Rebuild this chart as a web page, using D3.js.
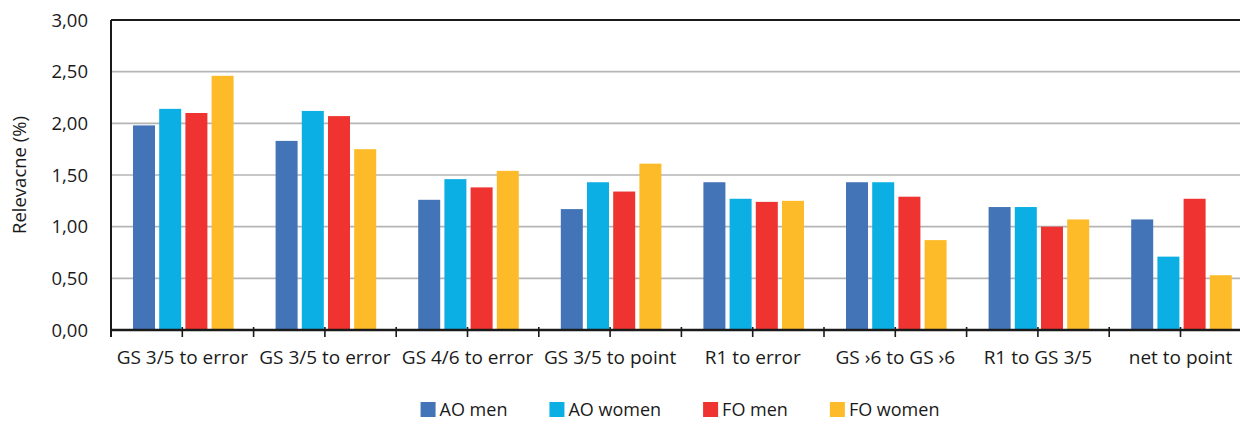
<!DOCTYPE html>
<html>
<head>
<meta charset="utf-8">
<script src="https://cdn.jsdelivr.net/npm/d3@7"></script>
<style>
  body { margin: 0; background: #fff; }
  svg { display: block; font-family: "Open Sans", "Noto Sans", sans-serif; }
</style>
</head>
<body>
<svg id="chart"></svg>
<script>
// data
var categories = ["GS 3/5 to error", "GS 3/5 to error", "GS 4/6 to error", "GS 3/5 to point",
                  "R1 to error", "GS \u203a6 to GS \u203a6", "R1 to GS 3/5", "net to point"];
var seriesNames = ["AO men", "AO women", "FO men", "FO women"];
var aoMen   = [1.98, 1.83, 1.26, 1.17, 1.43, 1.43, 1.19, 1.07];
var aoWomen = [2.14, 2.12, 1.46, 1.43, 1.27, 1.43, 1.19, 0.71];
var foMen   = [2.10, 2.07, 1.38, 1.34, 1.24, 1.29, 1.00, 1.27];
var foWomen = [2.46, 1.75, 1.54, 1.61, 1.25, 0.87, 1.07, 0.53];
var yTicks  = [0, 0.5, 1, 1.5, 2, 2.5, 3];
var colors  = ["#4374b8", "#0bafe4", "#ee3330", "#fdbb2a"];

var values = [aoMen, aoWomen, foMen, foWomen];

// size
var size = { width: 1240, height: 421 };
var margin = { top: 20, left: 111, bottom: 91 };
var plotW = 8 * 142.6;   // plot runs past the right edge (cropped)
var plotH = size.height - margin.top - margin.bottom;

var svg = d3.select("#chart")
  .attr("width", size.width)
  .attr("height", size.height);

var g = svg.append("g")
  .attr("transform", "translate(" + margin.left + "," + margin.top + ")");

var idx = d3.range(categories.length);
var x0 = d3.scaleBand().domain(idx).range([0, plotW]).padding(0);
var x1 = d3.scaleBand().domain(seriesNames).range([0, 100.6]).paddingInner(0.16).paddingOuter(0);
var y = d3.scaleLinear().domain([0, 3]).range([plotH, 0]);

var fmt = function(v){ return d3.format(".2f")(v).replace(".", ","); };

// grid
g.selectAll("line.grid")
  .data(yTicks.filter(function(t){ return t > 0 && t < 3; }))
  .enter().append("line")
  .attr("class", "grid")
  .attr("x1", 0).attr("x2", plotW)
  .attr("y1", function(d){ return y(d); })
  .attr("y2", function(d){ return y(d); })
  .attr("stroke", "#b5b5b5")
  .attr("stroke-width", 1.6);

// bars
seriesNames.forEach(function(s, si){
  g.selectAll("rect.s" + si)
    .data(values[si])
    .enter().append("rect")
    .attr("class", "s" + si)
    .attr("x", function(d, i){ return x0(i) + (x0.bandwidth() - 100.6) / 2 + 1 + x1(s); })
    .attr("y", function(d){ return y(d); })
    .attr("width", x1.bandwidth())
    .attr("height", function(d){ return plotH - y(d); })
    .attr("fill", colors[si]);
});

// frame: top + left
g.append("line")
  .attr("x1", 0).attr("x2", plotW)
  .attr("y1", 0).attr("y2", 0)
  .attr("stroke", "#1a1a1a").attr("stroke-width", 2);
g.append("line")
  .attr("x1", 0).attr("x2", 0)
  .attr("y1", 0).attr("y2", plotH + 7)
  .attr("stroke", "#1a1a1a").attr("stroke-width", 2);

// x axis line + ticks at band centres and edges
g.append("line")
  .attr("x1", 0).attr("x2", plotW)
  .attr("y1", plotH).attr("y2", plotH)
  .attr("stroke", "#1a1a1a").attr("stroke-width", 2.4);

var tickPos = d3.range(categories.length * 2 + 1).map(function(k){ return k * x0.step() / 2; });
g.selectAll("line.xt")
  .data(tickPos)
  .enter().append("line")
  .attr("class", "xt")
  .attr("x1", function(d){ return d; }).attr("x2", function(d){ return d; })
  .attr("y1", plotH - 3).attr("y2", plotH + 7)
  .attr("stroke", "#1a1a1a").attr("stroke-width", 1.6);

// category labels
g.selectAll("text.cat")
  .data(categories)
  .enter().append("text")
  .attr("class", "cat")
  .attr("x", function(d, i){ return x0(i) + x0.bandwidth() / 2; })
  .attr("y", plotH + 34)
  .attr("text-anchor", "middle")
  .attr("font-size", 19)
  .attr("fill", "#1a1a1a")
  .text(function(d){ return d; });

// y tick labels
g.selectAll("text.yt")
  .data(yTicks)
  .enter().append("text")
  .attr("class", "yt")
  .attr("x", -23)
  .attr("y", function(d){ return y(d) + 6.5; })
  .attr("text-anchor", "end")
  .attr("font-size", 18.5)
  .attr("fill", "#1a1a1a")
  .text(fmt);

// y title
svg.append("text")
  .attr("transform", "translate(26," + (margin.top + plotH / 2) + ") rotate(-90)")
  .attr("text-anchor", "middle")
  .attr("font-size", 18.5)
  .attr("fill", "#1a1a1a")
  .text("Relevacne (%)");

// legend
var legend = svg.append("g");
var lx = 0;
seriesNames.forEach(function(s, si){
  var item = legend.append("g").attr("transform", "translate(" + lx + ",0)");
  item.append("rect")
    .attr("x", 0).attr("y", 402)
    .attr("width", 15).attr("height", 15)
    .attr("fill", colors[si]);
  var t = item.append("text")
    .attr("x", 19).attr("y", 416)
    .attr("font-size", 18)
    .attr("fill", "#1a1a1a")
    .text(s);
  lx += 19 + t.node().getComputedTextLength() + 42;
});
var legendW = lx - 42;
legend.attr("transform", "translate(" + (680 - legendW / 2) + ",0)");
</script>
</body>
</html>
